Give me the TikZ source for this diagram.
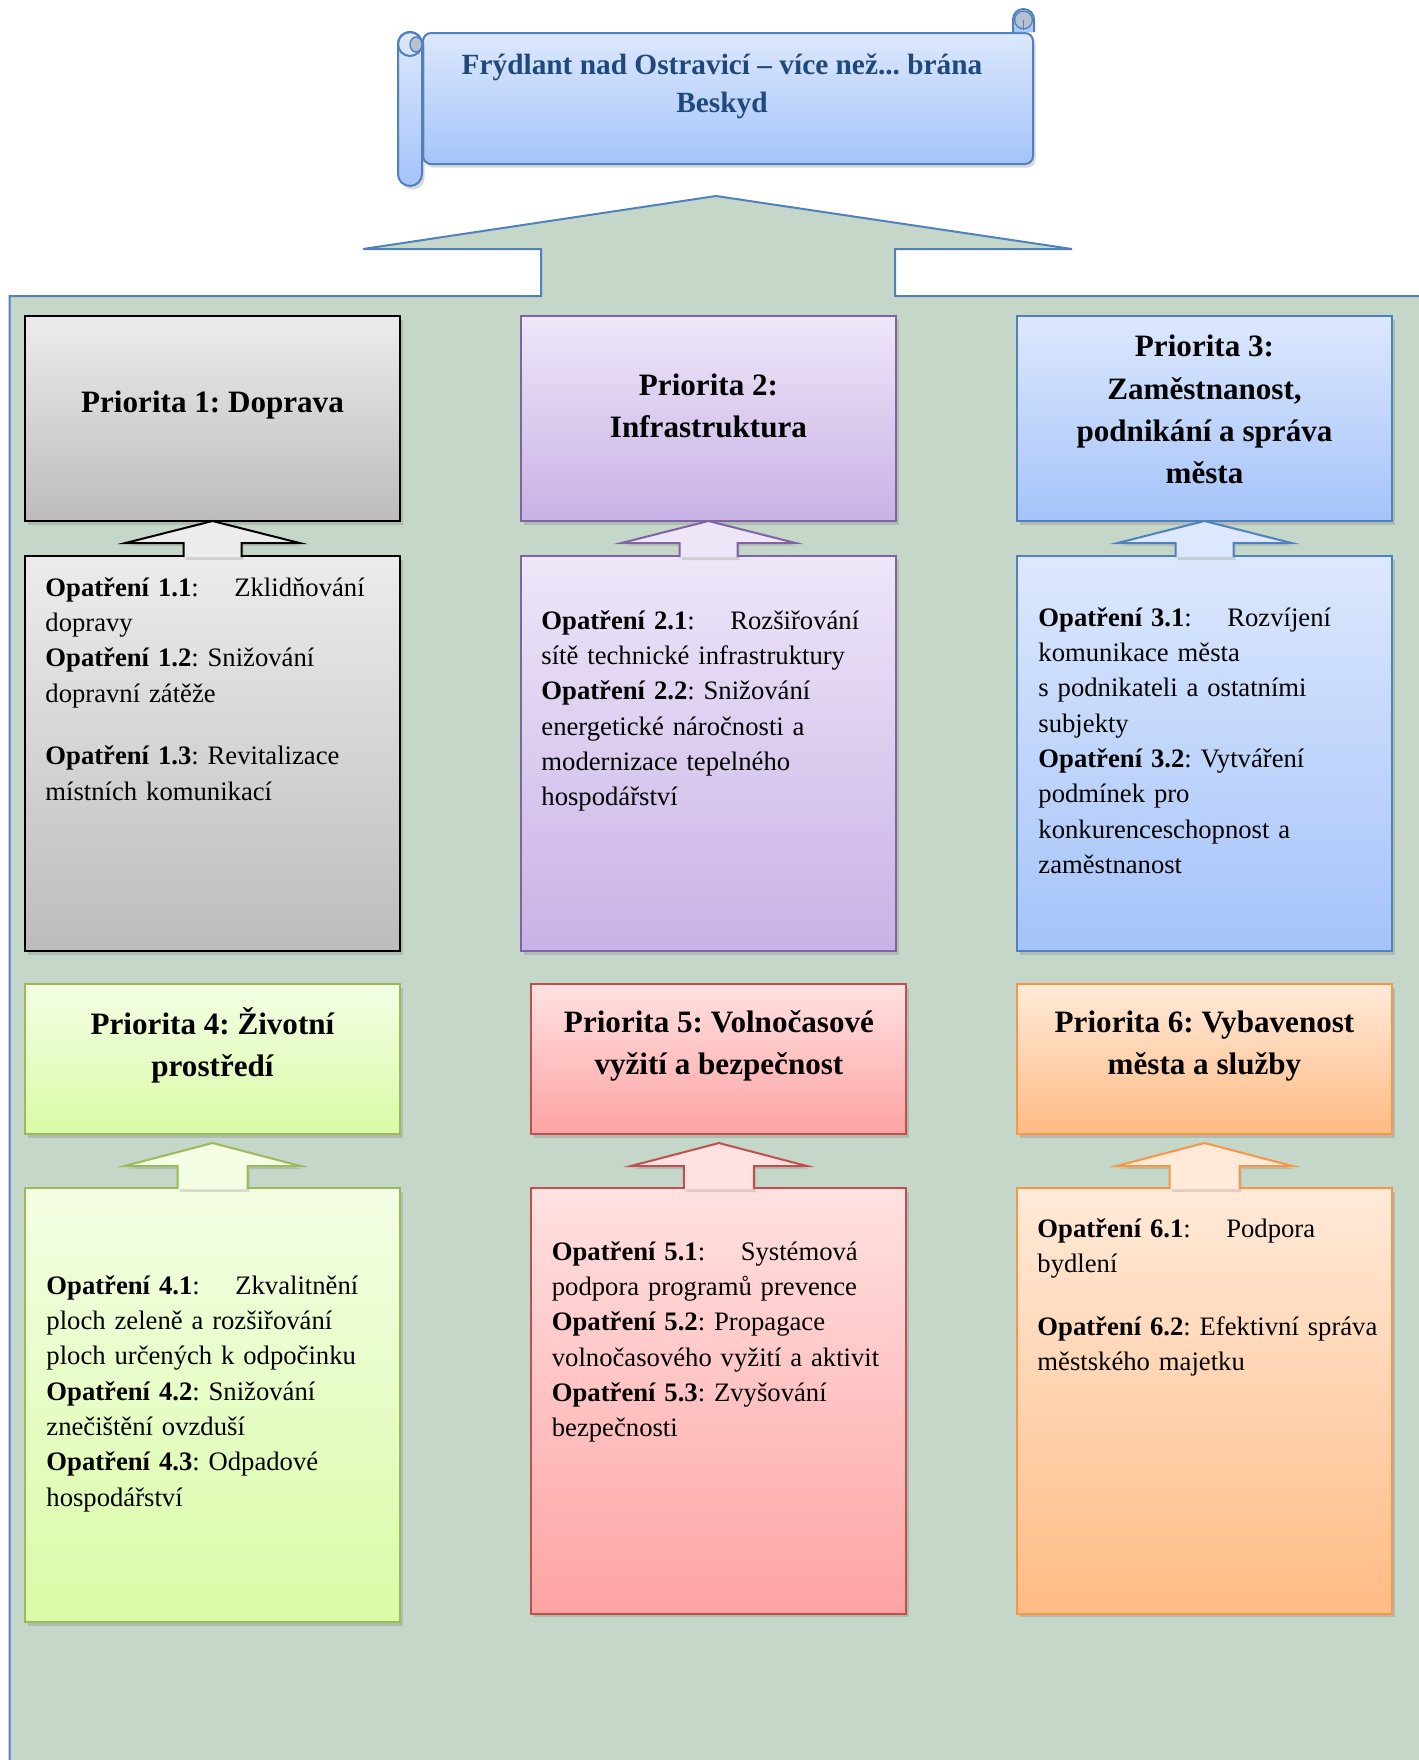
\documentclass[tikz,border=0pt]{standalone}
\usepackage{fontspec}
\setmainfont{Liberation Serif}
\usetikzlibrary{positioning,calc,shadows}

\definecolor{panel}{HTML}{C5D7C8}
\definecolor{accblue}{HTML}{4F81BD}
\definecolor{titleblue}{HTML}{1F497D}
\definecolor{gT}{HTML}{ECECEC}\definecolor{gB}{HTML}{BCBCBC}
\definecolor{vT}{HTML}{EEE6F8}\definecolor{vB}{HTML}{C8B2E6}\definecolor{vD}{HTML}{8064A2}
\definecolor{bT}{HTML}{DCE8FD}\definecolor{bB}{HTML}{A5C3F9}
\definecolor{zT}{HTML}{F4FEE4}\definecolor{zB}{HTML}{D9FBA6}\definecolor{zD}{HTML}{9BBB59}
\definecolor{rT}{HTML}{FFE1E1}\definecolor{rB}{HTML}{FFA3A3}\definecolor{rD}{HTML}{C0504D}
\definecolor{oT}{HTML}{FFEAD9}\definecolor{oB}{HTML}{FFBB84}\definecolor{oD}{HTML}{F79646}
\definecolor{curl}{HTML}{B7C0CF}

\begin{document}
\frenchspacing
\begin{tikzpicture}[
            x=0.45pt, y=-0.45pt,
            box/.style={rectangle, draw, line width=0.9pt, inner sep=0, outer sep=0, minimum width=168.75pt, drop shadow={opacity=0.3, shadow xshift=1.2pt, shadow yshift=-1.6pt}},
            prio/.style={box, minimum height=92.25pt},
            prio2/.style={box, minimum height=67.5pt},
            opat/.style={box, minimum height=177.75pt},
            opat2/.style={box, minimum height=191.5pt},
            head/.style={align=center, inner sep=0, font=\fontsize{14pt}{19pt}\selectfont\bfseries},
            txt/.style={anchor=base west, inner sep=0, text width=158pt, align=left, font=\fontsize{12pt}{15.9pt}\selectfont},
            uparr/.style={line width=0.9pt, drop shadow={opacity=0.25, shadow xshift=1pt, shadow yshift=-1.4pt}},
            greybox/.style={top color=gT, bottom color=gB, draw=black},
            violetbox/.style={top color=vT, bottom color=vB, draw=vD},
            bluebox/.style={top color=bT, bottom color=bB, draw=accblue},
            greenbox/.style={top color=zT, bottom color=zB, draw=zD},
            redbox/.style={top color=rT, bottom color=rB, draw=rD},
            orangebox/.style={top color=oT, bottom color=oB, draw=oD},
            roll/.style={top color=bT, bottom color=bB, draw=accblue, line width=0.9pt}
            ]
            \useasboundingbox (0,0) rectangle (1419,1760);

            % Background panel with the big arrow
            \begin{scope}
                \clip (0,0) rectangle (1419,1760);
                \draw[fill=panel, draw=accblue, line width=0.9pt] (9.5,1780) -- (9.5,296) -- (541,296) -- (541,249) -- (363,249) -- (716,196) -- (1072,249) -- (895,249) -- (895,296) -- (1440,296) -- (1440,1780) -- cycle;
            \end{scope}

            % Scroll
            \node[roll, rectangle, rounded corners=3.6pt, minimum width=274.5pt, minimum height=58.95pt, inner sep=0, drop shadow={opacity=0.3, shadow xshift=1.2pt, shadow yshift=-1.6pt}] (scroll) at (728,98.5) {};
            \draw[roll, rounded corners=5.4pt, drop shadow={opacity=0.3, shadow xshift=1.2pt, shadow yshift=-1.6pt}] ($(scroll.north west)+(-24,0)$) rectangle ++(24,154);
            \draw[accblue, line width=0.9pt] ($(scroll.north west)+(-12,12)$) circle (5.4pt);
            \draw[fill=curl, draw=accblue, line width=0.6pt] ($(scroll.north west)+(-6,12.5)$) ellipse (2.7pt and 3.4pt);
            \draw[roll, rounded corners=4.7pt] ($(scroll.north east)+(-21,0)$) -- ++(0,-23) -- ++(21,0) -- ++(0,23);
            \draw[fill=curl, draw=accblue, line width=0.6pt] ($(scroll.north east)+(-10.5,-12)$) circle (4pt);
            \draw[accblue, line width=0.6pt] ($(scroll.north east)+(-10.5,-12)$) -- ++(0,10);
            \node[align=center, inner sep=0, text=titleblue, font=\fontsize{13.2pt}{17.1pt}\selectfont\bfseries] (title) at ($(scroll.center)+(-6,-12)$) {Frýdlant nad Ostravicí – více než... brána\\Beskyd};

            % Priorities, first row
            \node[prio, greybox] (p1) at (212.5,418.5) {};
            \node[prio, violetbox, right=54.45pt of p1] (p2) {};
            \node[prio, bluebox, right=54.45pt of p2] (p3) {};

            % Measures, first row
            \node[opat, greybox, below=15.75pt of p1] (m1) {};
            \node[opat, violetbox, below=15.75pt of p2] (m2) {};
            \node[opat, bluebox, below=15.75pt of p3] (m3) {};

            % Priorities, second row
            \node[prio2, greenbox, below=14.85pt of m1] (p4) {};
            \node[prio2, redbox, below=14.85pt of m2, xshift=4.7pt] (p5) {};
            \node[prio2, orangebox, below=14.85pt of m3] (p6) {};

            % Measures, second row
            \node[opat2, greenbox, below=24.3pt of p4, minimum height=195.3pt] (m4) {};
            \node[opat2, redbox, below=24.3pt of p5] (m5) {};
            \node[opat2, orangebox, below=24.3pt of p6] (m6) {};

            % Arrows from measures to priorities
            \draw[uparr, fill=gT, draw=black] ($(m1.north)+(-29,1)$) -- ++(0,-14) -- ++(-58,0) -- (p1.south) -- ($(m1.north)+(87,-13)$) -- ++(-58,0) -- ++(0,14);
            \draw[uparr, fill=vT, draw=vD] ($(m2.north)+(-29,1)$) -- ++(0,-14) -- ++(-58,0) -- (p2.south) -- ($(m2.north)+(87,-13)$) -- ++(-58,0) -- ++(0,14);
            \draw[uparr, fill=bT, draw=accblue] ($(m3.north)+(-29,1)$) -- ++(0,-14) -- ++(-58,0) -- (p3.south) -- ($(m3.north)+(87,-13)$) -- ++(-58,0) -- ++(0,14);
            \draw[uparr, fill=zT, draw=zD] ($(m4.north)+(-35,1)$) -- ++(0,-23) -- ++(-53,0) -- ($(p4.south)+(0,9)$) -- ($(m4.north)+(88,-22)$) -- ++(-53,0) -- ++(0,23);
            \draw[uparr, fill=rT, draw=rD] ($(m5.north)+(-35,1)$) -- ++(0,-23) -- ++(-53,0) -- ($(p5.south)+(0,9)$) -- ($(m5.north)+(88,-22)$) -- ++(-53,0) -- ++(0,23);
            \draw[uparr, fill=oT, draw=oD] ($(m6.north)+(-35,1)$) -- ++(0,-23) -- ++(-53,0) -- ($(p6.south)+(0,9)$) -- ($(m6.north)+(88,-22)$) -- ++(-53,0) -- ++(0,23);

            % Headings
            \node[head] (h1) at ($(p1)+(0,-13)$) {Priorita 1: Doprava};
            \node[head] (h2) at ($(p2)+(0,-13)$) {Priorita 2:\\Infrastruktura};
            \node[head] (h3) at ($(p3)+(0,-9)$) {Priorita 3:\\Zaměstnanost,\\podnikání a správa\\města};
            \node[head] (h4) at ($(p4)+(0,-14)$) {Priorita 4: Životní\\prostředí};
            \node[head] (h5) at ($(p5)+(0,-13)$) {Priorita 5: Volnočasové\\vyžití a bezpečnost};
            \node[head] (h6) at ($(p6)+(0,-13)$) {Priorita 6: Vybavenost\\města a služby};

            % Measure texts
            \node[txt] (t1) at ($(m1.north west)+(20,40)$) {\makebox[85pt][l]{\textbf{Opatření 1.1}:}Zklidňování\\dopravy\\\textbf{Opatření 1.2}: Snižování\\dopravní zátěže\\[12.4pt]\textbf{Opatření 1.3}: Revitalizace\\místních komunikací};
            \node[txt] (t2) at ($(m2.north west)+(20,73)$) {\makebox[85pt][l]{\textbf{Opatření 2.1}:}Rozšiřování\\sítě technické infrastruktury\\\textbf{Opatření 2.2}: Snižování\\energetické náročnosti a\\modernizace tepelného\\hospodářství};
            \node[txt] (t3) at ($(m3.north west)+(21,70)$) {\makebox[85pt][l]{\textbf{Opatření 3.1}:}Rozvíjení\\komunikace města\\s podnikateli a ostatními\\subjekty\\\textbf{Opatření 3.2}: Vytváření\\podmínek pro\\konkurenceschopnost a\\zaměstnanost};
            \node[txt] (t4) at ($(m4.north west)+(21,106)$) {\makebox[85pt][l]{\textbf{Opatření 4.1}:}Zkvalitnění\\ploch zeleně a rozšiřování\\ploch určených k odpočinku\\\textbf{Opatření 4.2}: Snižování\\znečištění ovzduší\\\textbf{Opatření 4.3}: Odpadové\\hospodářství};
            \node[txt] (t5) at ($(m5.north west)+(20,72)$) {\makebox[85pt][l]{\textbf{Opatření 5.1}:}Systémová\\podpora programů prevence\\\textbf{Opatření 5.2}: Propagace\\volnočasového vyžití a aktivit\\\textbf{Opatření 5.3}: Zvyšování\\bezpečnosti};
            \node[txt] (t6) at ($(m6.north west)+(20,49)$) {\makebox[85pt][l]{\textbf{Opatření 6.1}:}Podpora\\bydlení\\[12.4pt]\textbf{Opatření 6.2}: Efektivní správa\\městského majetku};

        \end{tikzpicture}
\end{document}
